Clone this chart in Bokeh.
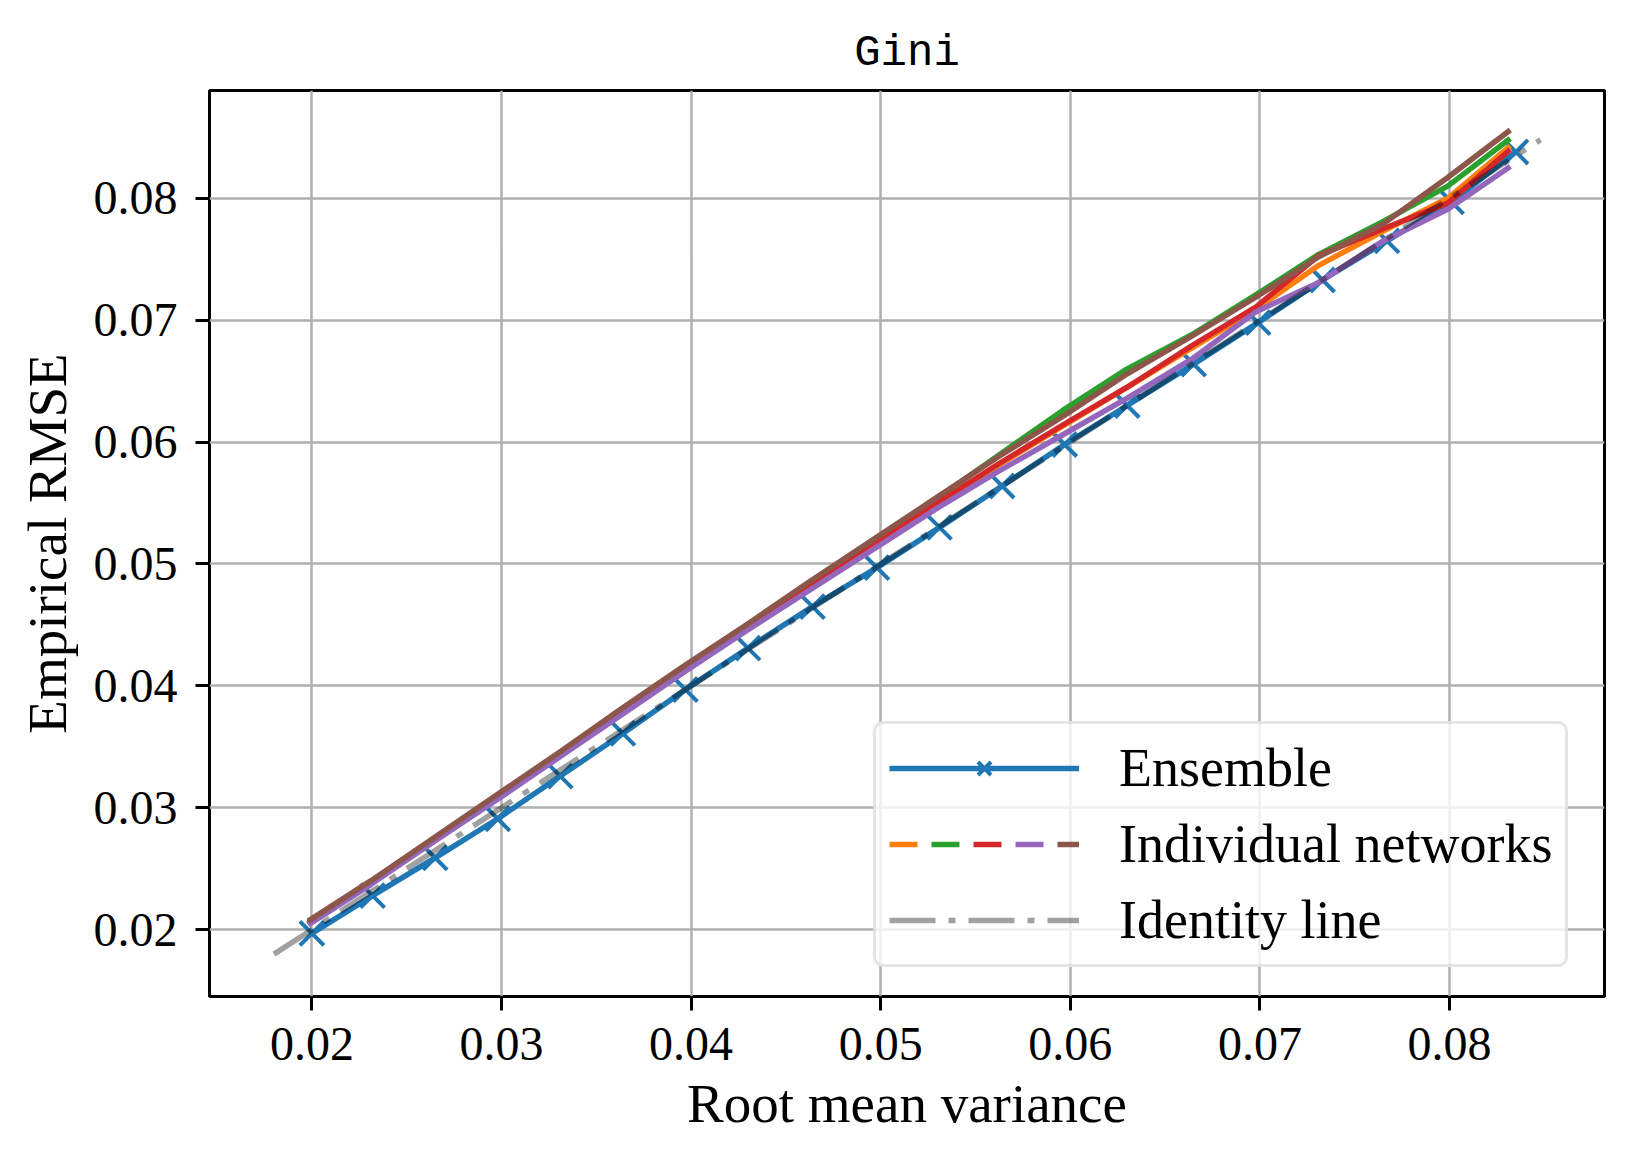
from bokeh.plotting import figure
from bokeh.models import Range1d, FixedTicker, Legend, LegendItem
from bokeh.embed import file_html
from bokeh.resources import INLINE

# ---------------- data ----------------
title_text = "Gini"
x_label = "Root mean variance"
y_label = "Empirical RMSE"

tick_values = [0.02, 0.03, 0.04, 0.05, 0.06, 0.07, 0.08]
tick_labels = ["0.02", "0.03", "0.04", "0.05", "0.06", "0.07", "0.08"]

ens_x = [0.0200, 0.0232, 0.0265, 0.0298, 0.0331, 0.0364, 0.0397, 0.0430, 0.0464, 0.0498,
         0.0531, 0.0564, 0.0597, 0.0630, 0.0665, 0.0699, 0.0733, 0.0767, 0.0801, 0.0835]
ens_y = [0.0197, 0.0228, 0.0259, 0.0291, 0.0326, 0.0361, 0.0397, 0.0431, 0.0465, 0.0497,
         0.0530, 0.0564, 0.0598, 0.0630, 0.0664, 0.0698, 0.0733, 0.0765, 0.0797, 0.0838]

net_x = [0.0198, 0.0231, 0.0264, 0.0297, 0.0330, 0.0363, 0.0396, 0.0429, 0.0462, 0.0496,
         0.0529, 0.0562, 0.0596, 0.0630, 0.0664, 0.0698, 0.0731, 0.0765, 0.0799, 0.0832]
net_orange = [0.0205, 0.0238, 0.0272, 0.0307, 0.0342, 0.0377, 0.0412, 0.0446, 0.0480, 0.0514,
              0.0548, 0.0581, 0.0613, 0.0645, 0.0677, 0.0709, 0.0745, 0.0773, 0.0800, 0.0843]
net_green = [0.0206, 0.0239, 0.0274, 0.0309, 0.0344, 0.0380, 0.0415, 0.0449, 0.0484, 0.0519,
             0.0553, 0.0589, 0.0626, 0.0660, 0.0688, 0.0721, 0.0754, 0.0781, 0.0810, 0.0849]
net_red = [0.0205, 0.0238, 0.0273, 0.0308, 0.0343, 0.0378, 0.0413, 0.0447, 0.0481, 0.0516,
           0.0549, 0.0582, 0.0614, 0.0645, 0.0679, 0.0711, 0.0753, 0.0775, 0.0796, 0.0840]
net_purple = [0.0204, 0.0237, 0.0272, 0.0306, 0.0341, 0.0376, 0.0411, 0.0445, 0.0478, 0.0512,
              0.0545, 0.0576, 0.0606, 0.0636, 0.0668, 0.0707, 0.0731, 0.0765, 0.0791, 0.0826]
net_brown = [0.0207, 0.0240, 0.0275, 0.0310, 0.0345, 0.0381, 0.0416, 0.0450, 0.0485, 0.0520,
             0.0554, 0.0588, 0.0621, 0.0656, 0.0687, 0.0719, 0.0752, 0.0779, 0.0817, 0.0856]

net_series = [net_orange, net_green, net_red, net_purple, net_brown]
net_colors = ["#ff7f0e", "#2ca02c", "#d62728", "#9467bd", "#8c564b"]

identity_x = [0.0180, 0.0848]
identity_y = [0.0180, 0.0848]

legend_labels = ["Ensemble", "Individual networks", "Identity line"]

# ---------------- figure ----------------
SERIF = "Liberation Serif"
p = figure(width=1617, height=1145, output_backend="svg", toolbar_location=None,
           x_range=Range1d(0.01460, 0.08817), y_range=Range1d(0.01452, 0.08884),
           min_border_left=209, min_border_right=13, min_border_top=90, min_border_bottom=149)

p.title.text = title_text
p.title.align = "center"
p.title.text_font = "Liberation Mono"
p.title.text_font_style = "normal"
p.title.text_font_size = "44px"
p.title.text_color = "black"
p.title.standoff = 25

p.outline_line_color = "black"
p.outline_line_width = 3
p.outline_line_alpha = 1.0

for ax in (p.xaxis[0], p.yaxis[0]):
    ax.ticker = FixedTicker(ticks=tick_values)
    ax.major_label_overrides = {v: l for v, l in zip(tick_values, tick_labels)}
    ax.major_label_text_font = SERIF
    ax.major_label_text_font_size = "48px"
    ax.major_label_text_color = "black"
    ax.axis_label_text_font = SERIF
    ax.axis_label_text_font_size = "55px"
    ax.axis_label_text_font_style = "normal"
    ax.axis_label_text_color = "black"
    ax.axis_line_color = None
    ax.major_tick_line_color = "black"
    ax.major_tick_line_width = 3
    ax.major_tick_out = 14
    ax.major_tick_in = 0
    ax.minor_tick_line_color = None

p.xaxis.axis_label = x_label
p.yaxis.axis_label = y_label
p.xaxis.major_label_standoff = 17
p.yaxis.major_label_standoff = 18
p.xaxis.axis_label_standoff = 10
p.yaxis.axis_label_standoff = 13

p.xgrid.ticker = FixedTicker(ticks=tick_values)
p.ygrid.ticker = FixedTicker(ticks=tick_values)
p.grid.grid_line_color = "#b0b0b0"
p.grid.grid_line_width = 2.5

# ensemble
ens_line = p.line(ens_x, ens_y, line_color="#1f77b4", line_width=5.5, line_join="round")
ens_mark = p.scatter(ens_x, ens_y, marker="x", size=34, line_color="#1f77b4", line_width=4)

# individual networks
for ys, c in zip(net_series, net_colors):
    p.line(net_x, ys, line_color=c, line_width=5.5, line_join="round")

# identity line
id_line = p.line(identity_x, identity_y, line_color="black", line_alpha=0.37, line_width=5.5,
                 line_dash="46 13 7 13")

# legend-only carriers for the multi-coloured dashed entry (placed outside the visible range)
period = 208
off_x = [v - 1.0 for v in net_x[:2]]
dummies = []
for k, (ys, c) in enumerate(zip(net_series, net_colors)):
    off = (period - k * 42) % period
    r = p.line(off_x, [v - 1.0 for v in ys[:2]], line_color=c, line_width=5.5,
               line_dash="28 180", line_dash_offset=off)
    dummies.append(r)

legend = Legend(items=[
    LegendItem(label=legend_labels[0], renderers=[ens_line, ens_mark]),
    LegendItem(label=legend_labels[1], renderers=dummies),
    LegendItem(label=legend_labels[2], renderers=[id_line]),
], location=(664, 29))
legend.label_text_font = SERIF
legend.label_text_font_size = "54px"
legend.label_text_color = "black"
legend.glyph_width = 190
legend.glyph_height = 46
legend.label_height = 46
legend.label_standoff = 40
legend.spacing = 14
legend.padding = 13
legend.margin = 0
legend.border_line_color = "#cccccc"
legend.border_line_width = 3
legend.border_radius = 10
legend.background_fill_color = "white"
legend.background_fill_alpha = 0.8
p.add_layout(legend, "center")

open("out.html", "w").write(file_html(p, INLINE))
